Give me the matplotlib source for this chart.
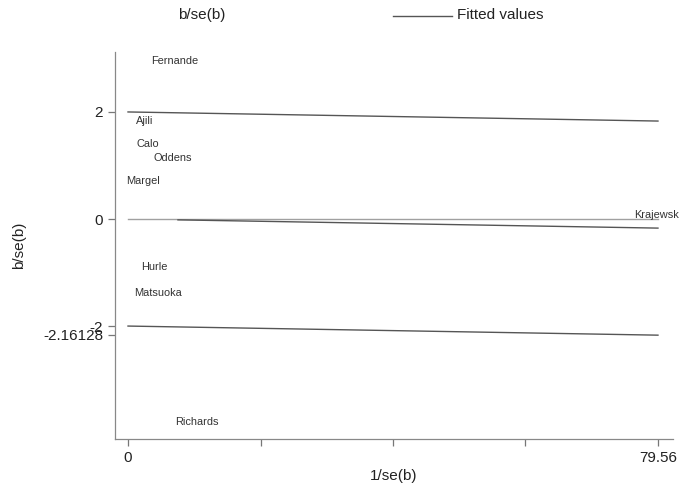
import matplotlib

matplotlib.use("Agg")
import matplotlib.pyplot as plt
from matplotlib.lines import Line2D

plt.rcParams["font.family"] = ["Liberation Sans", "DejaVu Sans"]

# study labels, precision (1/se) and standardised effect (b/se)
studies = ["Fernande", "Ajili", "Calo", "Oddens", "Margel", "Krajewsk",
           "Hurle", "Matsuoka", "Richards"]
precision = [7.0, 2.5, 2.9, 6.7, 2.3, 79.3, 3.9, 4.5, 10.4]
zscore = [2.95, 1.83, 1.40, 1.14, 0.71, 0.07, -0.90, -1.38, -3.79]

# fitted line endpoints and band width
fit_x = [7.5, 79.56]
fit_y = [-0.016, -0.17]
band_x = [0, 79.56]
band_mid = [0.0, -0.17]
band_half = 2.0

x_ticks = [0, 19.89, 39.78, 59.67, 79.56]
x_ticklabels = ["0", "", "", "", "79.56"]
y_ticks = [2, 0, -2, -2.16128]
y_ticklabels = ["2", "0", "-2", "-2.16128"]

fig = plt.figure(figsize=(6.79, 4.86), dpi=100)
ax = fig.add_axes([0.1694, 0.0967, 0.8216, 0.7963])

line_col = "#555555"
ax.plot(band_x, [0, 0], color="#a0a0a0", lw=1.0)
ax.plot(band_x, [m + band_half for m in band_mid], color=line_col, lw=1.0)
ax.plot(band_x, [m - band_half for m in band_mid], color=line_col, lw=1.0)
ax.plot(fit_x, fit_y, color=line_col, lw=1.0)

for name, x, y in zip(studies, precision, zscore):
    ax.text(x, y, name, ha="center", va="center", fontsize=7.9, color="#333333",
            clip_on=False)

ax.set_xlim(-1.95, 81.8)
ax.set_ylim(-4.11, 3.12)
ax.set_xticks(x_ticks)
ax.set_xticklabels(x_ticklabels)
ax.set_yticks(y_ticks)
ax.set_yticklabels(y_ticklabels)
ax.tick_params(colors="#777777", labelcolor="#222222", labelsize=11,
               length=5, width=0.9)

for side in ["top", "right"]:
    ax.spines[side].set_visible(False)
for side in ["left", "bottom"]:
    ax.spines[side].set_color("#888888")
    ax.spines[side].set_linewidth(0.9)

ax.set_xlabel("1/se(b)", fontsize=11, color="#222222", labelpad=3)
ax.set_ylabel("b/se(b)", fontsize=11, color="#222222", labelpad=12)

# legend row at the top
fig.text(202 / 679, 1 - 15 / 486, "b/se(b)", ha="center", va="center",
         fontsize=11, color="#222222")
fig.add_artist(Line2D([393 / 679, 452 / 679], [1 - 16 / 486, 1 - 16 / 486],
                      color=line_col, lw=1.0))
fig.text(457 / 679, 1 - 15 / 486, "Fitted values", ha="left", va="center",
         fontsize=11, color="#222222")

fig.savefig("out.png", dpi=100)
